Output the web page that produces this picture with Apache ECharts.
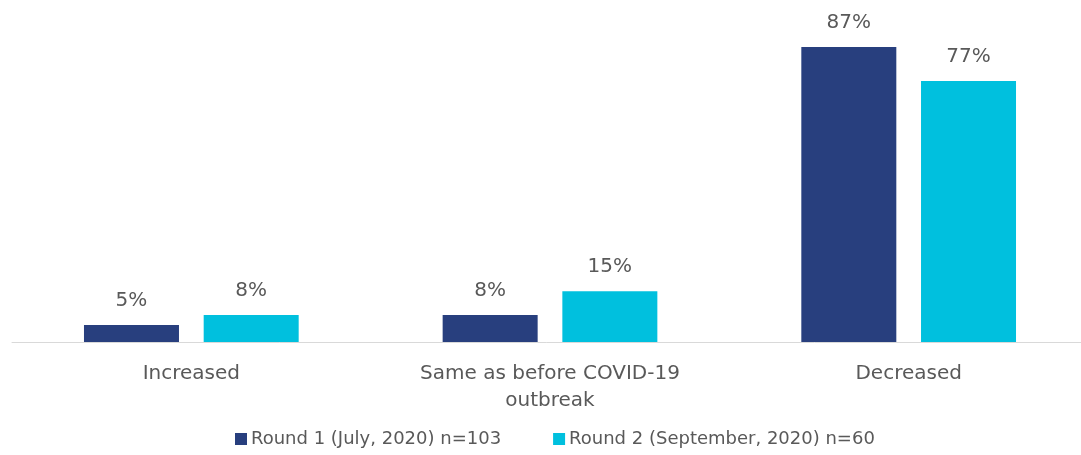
<!DOCTYPE html>
<html><head><meta charset="utf-8">
<script src="https://cdn.jsdelivr.net/npm/echarts@6/dist/echarts.min.js"></script>
<style>html,body{margin:0;padding:0;background:#fff}#c{width:1081px;height:455px}</style>
</head><body><div id="c"></div>
<script>
const categories = ['Increased', 'Same as before COVID-19\noutbreak', 'Decreased'];
const seriesNames = ['Round 1 (July, 2020) n=103', 'Round 2 (September, 2020) n=60'];
const round1 = [5, 8, 87];
const round2 = [8, 15, 77];
const colors = ['#283f7e', '#00c0de'];
const FONT = '"DejaVu Sans", sans-serif';
const chart = echarts.init(document.getElementById('c'));
chart.setOption({
  animation: false,
  textStyle: {fontFamily: FONT},
  grid: {left: 12, width: 1076, top: 3, bottom: 113, outerBoundsMode: 'none', containLabel: false},
  legend: {
    bottom: 2, left: 230, itemWidth: 12, itemHeight: 12, itemGap: 52,
    icon: 'rect',
    textStyle: {fontSize: 18, color: '#595959', fontFamily: FONT, padding: [0, 0, 0, -1]},
    data: seriesNames
  },
  xAxis: {
    type: 'category', data: categories,
    axisLine: {lineStyle: {color: '#d9d9d9', width: 1}},
    axisTick: {show: false},
    axisLabel: {fontSize: 20, color: '#595959', lineHeight: 27, margin: 18, fontFamily: FONT}
  },
  yAxis: {type: 'value', min: 0, max: 100, show: false, splitLine: {show: false}},
  series: [round1, round2].map((d, i) => ({
    name: seriesNames[i], type: 'bar', data: d,
    barWidth: 95, barGap: '26%',
    itemStyle: {color: colors[i]},
    label: {show: true, position: 'top', distance: 14, formatter: '{c}%', fontSize: 20, color: '#595959', fontFamily: FONT}
  }))
});
</script></body></html>
